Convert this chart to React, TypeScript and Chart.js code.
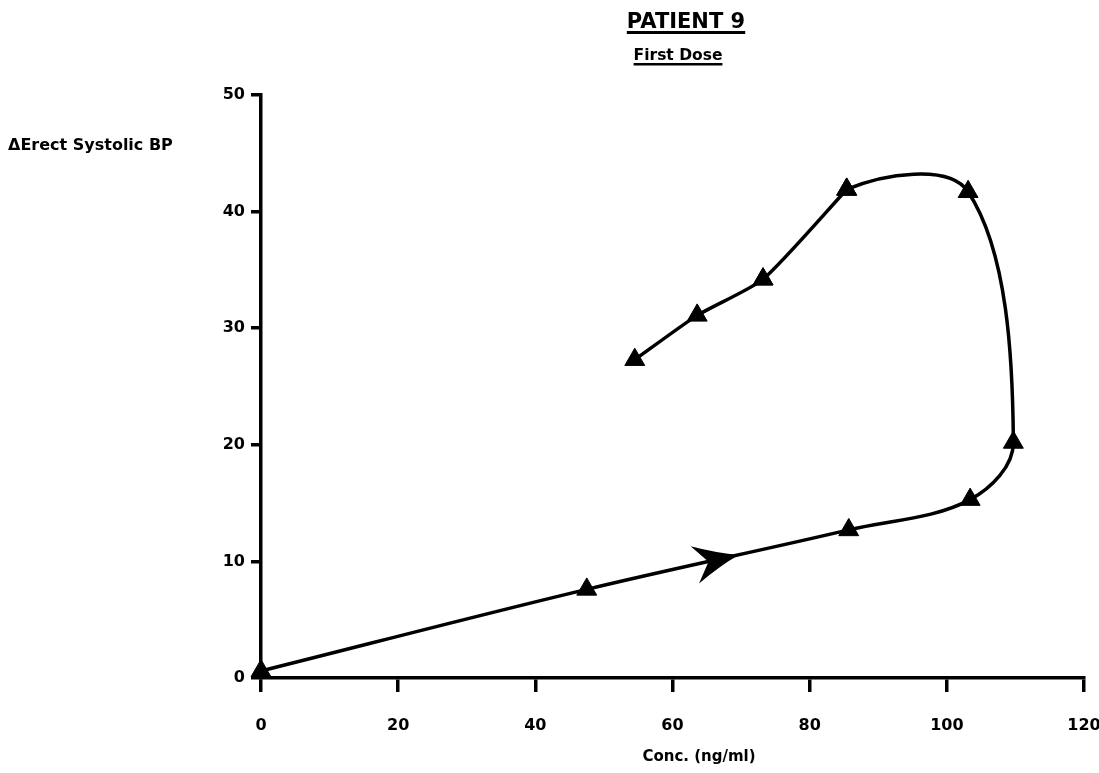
import React, { useEffect, useRef } from "react";
import { Chart, registerables } from "chart.js";

Chart.register(...registerables);

const concValues = [0, 47.5, 85.7, 103.4, 109.7, 103.1, 85.4, 73.2, 63.6, 54.5];
const bpValues = [0.6, 7.6, 12.7, 15.3, 20.2, 41.7, 41.9, 34.2, 31.1, 27.3];
const curveBreakIndex = 6;
const titleText = "PATIENT 9";
const subtitleText = "First Dose";
const yTitleText = "\u0394Erect Systolic BP";
const xTitleText = "Conc. (ng/ml)";
const arrowSegment = [1, 2];
const arrowFraction = 0.58;

const FONT = "'DejaVu Sans', 'Liberation Sans', Arial, sans-serif";

const textPlugin = {
  id: "textPlugin",
  afterDraw(chart: any) {
    const ctx = chart.ctx as CanvasRenderingContext2D;
    ctx.save();
    ctx.fillStyle = "#000";
    ctx.strokeStyle = "#000";
    const underlined = (text: string, size: number, cx: number, baseline: number, ulOffset: number, ulWidth: number) => {
      ctx.font = `bold ${size}px ${FONT}`;
      ctx.textAlign = "center";
      ctx.textBaseline = "alphabetic";
      ctx.fillText(text, cx, baseline);
      const w = ctx.measureText(text).width;
      ctx.fillRect(cx - w / 2, baseline + ulOffset, w, ulWidth);
    };
    underlined(titleText, 21, 686, 28, 3, 3);
    underlined(subtitleText, 15.5, 678, 60, 3, 2.5);
    ctx.font = `bold 16px ${FONT}`;
    ctx.textAlign = "left";
    ctx.textBaseline = "alphabetic";
    ctx.fillText(yTitleText, 8, 150);
    ctx.textAlign = "center";
    ctx.font = `bold 15px ${FONT}`;
    ctx.fillText(xTitleText, 699, 761);
    ctx.restore();
  },
  afterDatasetsDraw(chart: any) {
    const meta = chart.getDatasetMeta(0);
    const a = meta.data[arrowSegment[0]];
    const b = meta.data[arrowSegment[1]];
    if (!a || !b) return;
    const ctx = chart.ctx as CanvasRenderingContext2D;
    const tx = a.x + (b.x - a.x) * arrowFraction;
    const ty = a.y + (b.y - a.y) * arrowFraction;
    const ang = Math.atan2(b.y - a.y, b.x - a.x);
    ctx.save();
    ctx.translate(tx, ty);
    ctx.rotate(ang);
    ctx.fillStyle = "#000";
    ctx.beginPath();
    ctx.moveTo(0, 0);
    ctx.quadraticCurveTo(-20, -6, -45, -19);
    ctx.lineTo(-31, 0);
    ctx.lineTo(-45, 19);
    ctx.quadraticCurveTo(-20, 6, 0, 0);
    ctx.closePath();
    ctx.fill();
    ctx.restore();
  },
};

export default function App() {
  const ref = useRef<HTMLCanvasElement | null>(null);
  useEffect(() => {
    if (!ref.current) return;
    const tickFont = { family: FONT, weight: "bold" as const, size: 16 };
    const points = concValues.map((x, i) => ({ x, y: bpValues[i] }));
    const common = {
      borderColor: "#000",
      backgroundColor: "#000",
      borderWidth: 3.5,
      pointStyle: "triangle" as const,
      pointRadius: 11.5,
      pointBackgroundColor: "#000",
      pointBorderColor: "#000",
      pointBorderWidth: 1,
      clip: false as any,
    };
    // first part: includes the point after the break so the tangent there is smooth,
    // but its last (overlapping) segment is hidden; the second part draws it.
    const partA = points.slice(0, curveBreakIndex + 2);
    const hiddenSeg = partA.length - 2;
    const chart = new Chart(ref.current, {
      type: "line",
      data: {
        datasets: [
          {
            ...common,
            data: partA,
            tension: 0.35,
            segment: {
              borderColor: (c: any) => (c.p0DataIndex === hiddenSeg ? "rgba(0,0,0,0)" : "#000"),
            },
          },
          { ...common, data: points.slice(curveBreakIndex), tension: 0.2 },
        ],
      },
      plugins: [textPlugin],
      options: {
        responsive: false,
        animation: false,
        layout: { padding: { top: 95, right: 15, left: 0, bottom: 0 } },
        plugins: { legend: { display: false }, tooltip: { enabled: false }, title: { display: false } },
        scales: {
          x: {
            type: "linear",
            min: 0,
            max: 120,
            ticks: { stepSize: 20, color: "#000", font: tickFont, padding: 24, maxRotation: 0 },
            grid: { drawOnChartArea: false, drawTicks: true, tickLength: 14, color: "#000", lineWidth: 3.5 },
            border: { display: true, color: "#000", width: 3.5 },
            afterFit: (s: any) => {
              s.height = 95;
              s.paddingLeft = 0;
              s.paddingRight = 0;
            },
          },
          y: {
            type: "linear",
            min: 0,
            max: 50,
            ticks: { stepSize: 10, color: "#000", font: tickFont, padding: 6 },
            grid: { drawOnChartArea: false, drawTicks: true, tickLength: 10, color: "#000", lineWidth: 3.5 },
            border: { display: true, color: "#000", width: 3.5 },
            afterFit: (s: any) => {
              s.width = 261;
              s.paddingTop = 0;
              s.paddingBottom = 0;
            },
          },
        },
      },
    });
    return () => chart.destroy();
  }, []);
  return (
    <div style={{ position: "fixed", left: 0, top: 0, width: 1099, height: 773, background: "#fff" }}>
      <canvas ref={ref} width={1099} height={773} />
    </div>
  );
}
